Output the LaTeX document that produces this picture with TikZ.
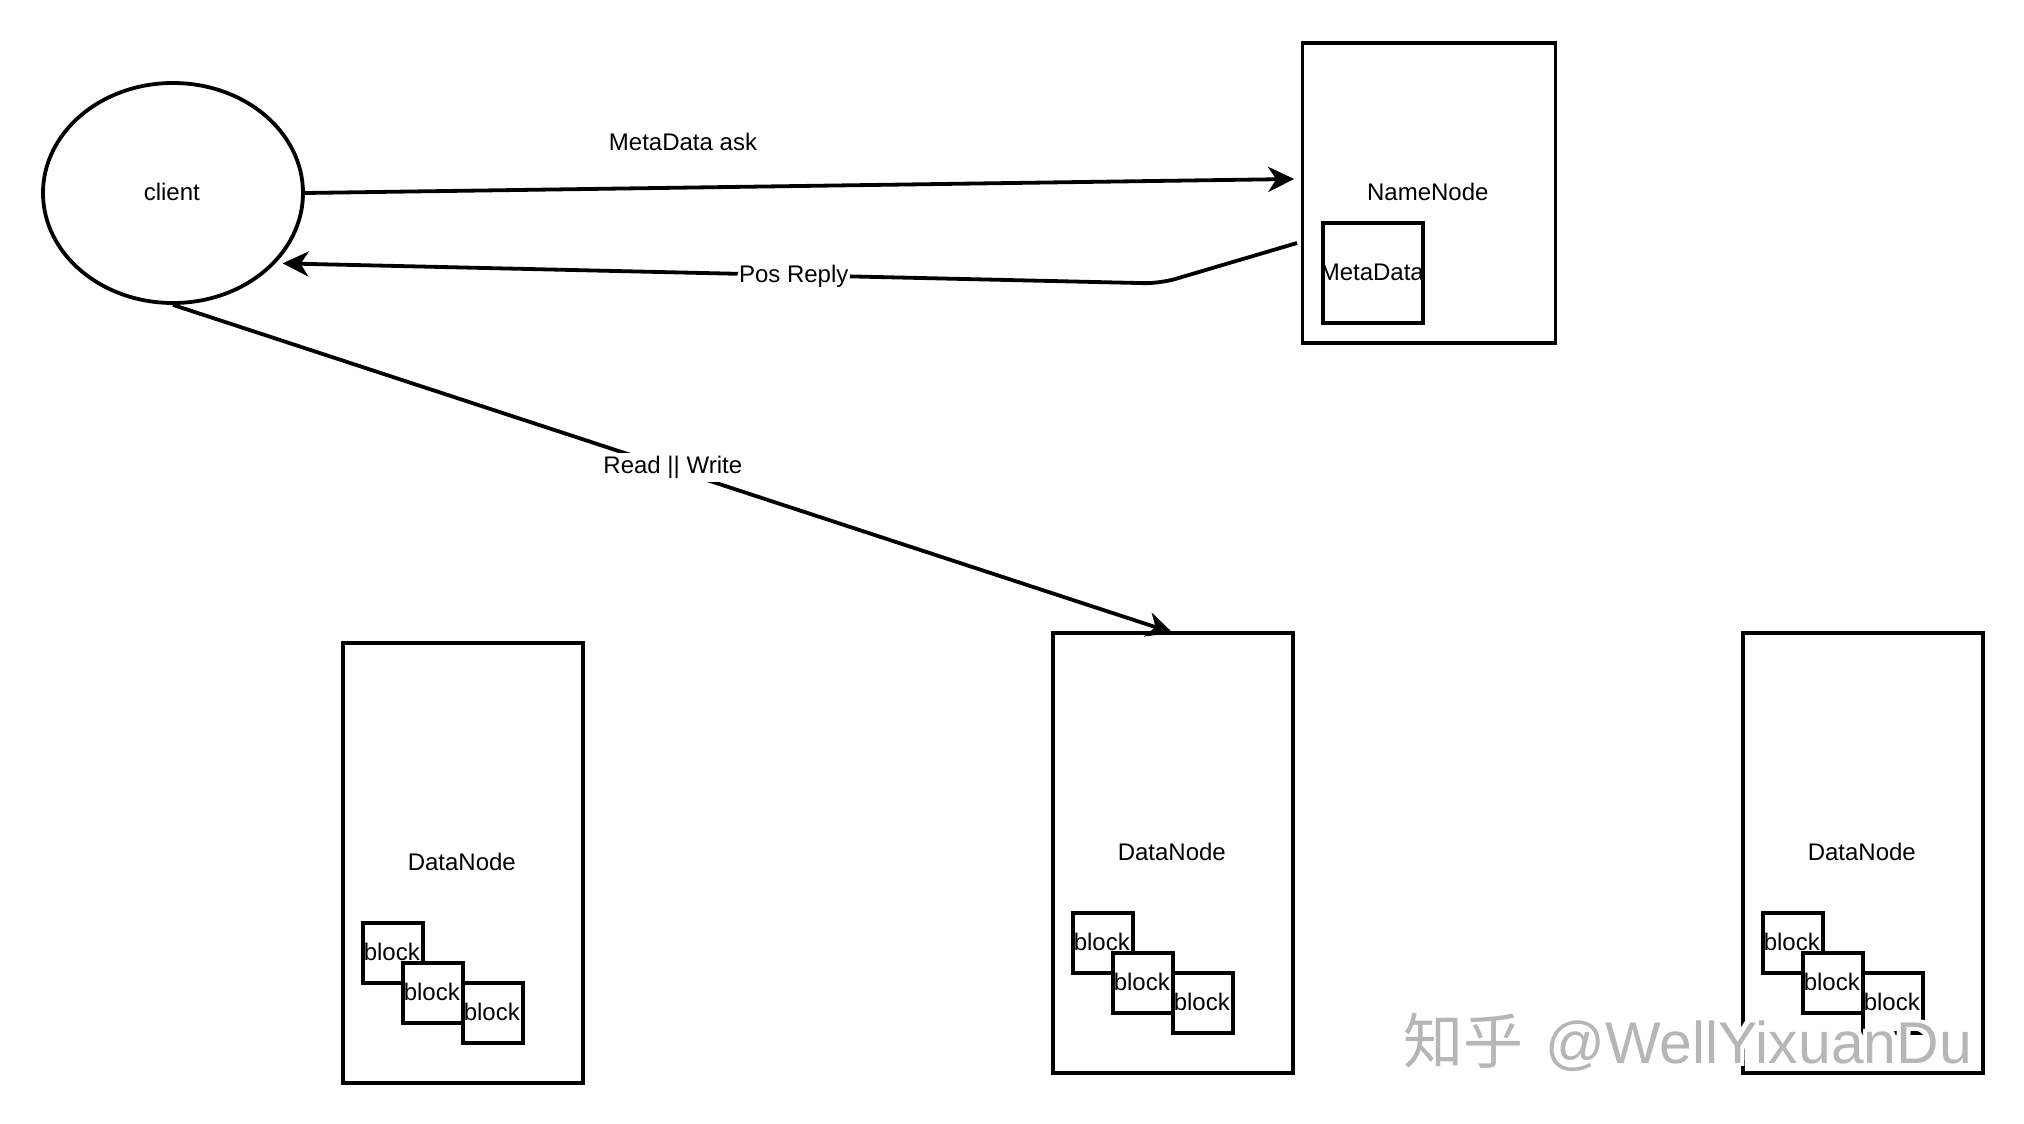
\documentclass[tikz,border=0pt]{standalone}
\usepackage{fontspec}
\usepackage{xcolor}
\usepackage{tikz}
\usetikzlibrary{shapes.geometric,arrows.meta}
\setmainfont{Liberation Sans}
\newfontfamily\cjkfont{Noto Sans CJK SC}
\definecolor{markgray}{RGB}{182, 182, 182}
\tikzset{
    box/.style={draw=black, fill=white, line width=1.9pt, inner sep=0pt, text height=8.3pt, text depth=1pt,
        execute at end node=\hspace{1.2pt}, font=\fontsize{12pt}{14pt}\selectfont},
    storebox/.style={box, minimum width=120pt, minimum height=220pt},
    blockbox/.style={box, minimum width=30pt, minimum height=30pt},
    link/.style={draw=black, line width=1.9pt, -{Stealth[length=13pt, width=12.5pt, inset=4pt]}},
    linklabel/.style={fill=white, inner sep=0.8pt, text height=9.5pt, text depth=3.5pt, font=\fontsize{12pt}{14pt}\selectfont},
    wmark/.style={anchor=base west, inner sep=0pt, font=\fontsize{29.45pt}{32pt}\selectfont},
}
\newcommand{\wmtext}{{\cjkfont\fontsize{30pt}{32pt}\selectfont 知乎}\hspace{11pt}@WellYixuanDu}

\begin{document}
\begin{tikzpicture}[x=0.5pt, y=-0.5pt]
    \useasboundingbox (0,0) rectangle (2024,1124);

    \node[box, ellipse, minimum width=130pt, minimum height=110pt] (client) at (173,193) {client};
    \node[box, minimum width=126.5pt, minimum height=150pt] (namenode) at (1429,193) {NameNode};
    \node[box, minimum width=50pt, minimum height=50pt] (metadata) at (1373,273) {\makebox[0pt]{MetaData}};

    \foreach \nm/\x/\y in {dna/463/863, dnb/1173/853, dnc/1863/853} {
        \node[storebox] (\nm) at (\x,\y) {DataNode};
        \begin{scope}[shift={(\x,\y)}]
            \node[blockbox] (\nm-one) at (-70,90) {block};
            \node[blockbox] (\nm-two) at (-30,130) {block};
            \node[blockbox] (\nm-three) at (30,150) {block};
        \end{scope}
    }

    \draw[link] (client.east) -- ([xshift=-3.2pt, yshift=7pt]namenode.west);
    \node[font=\fontsize{12pt}{14pt}\selectfont] (asklabel) at (683,142) {MetaData ask};

    \draw[link, rounded corners=8pt] ([xshift=-1.8pt, yshift=-25pt]namenode.west) -- (1160,283.5)
        -- node[linklabel, pos=0.4175, yshift=-0.6pt] (replylabel) {Pos Reply} ([xshift=1.7pt, yshift=-2pt]client.-32);

    \draw[link] (client.south) -- node[linklabel, pos=0.5, yshift=0.6pt] (rwlabel) {Read || Write} ([xshift=-0.2pt, yshift=-0.8pt]dnb.north);

    \foreach \dx/\dy [count=\i] in {-3/0, 3/0, 0/-3, 0/3, -4/-3, 4/-3, 4/3, -4/3} {
        \node[wmark, white] (halo\i) at (1403+\dx,1063+\dy) {\wmtext};
    }
    \node[wmark, markgray] (watermark) at (1403,1063) {\wmtext};
\end{tikzpicture}
\end{document}
